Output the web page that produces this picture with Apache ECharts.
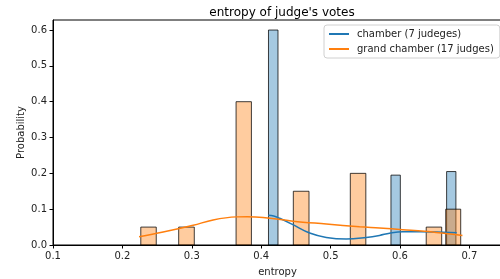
<!DOCTYPE html>
<html>
<head>
<meta charset="utf-8">
<script src="https://cdn.jsdelivr.net/npm/echarts@6/dist/echarts.min.js"></script>
<style>html,body{margin:0;padding:0;background:#fff;}#c{width:500px;height:279px;}</style>
</head>
<body>
<div id="c"></div>
<script>
// Histogram bins: [bin start, bin end, probability]
const chamberBins = [
  [0.4105, 0.4242, 0.6],
  [0.5870, 0.6005, 0.195],
  [0.6672, 0.6806, 0.205]
];
const grandChamberBins = [
  [0.2265, 0.2488, 0.05],
  [0.2811, 0.3036, 0.05],
  [0.3638, 0.3859, 0.4],
  [0.4463, 0.4689, 0.15],
  [0.5284, 0.5508, 0.2],
  [0.6378, 0.6601, 0.05],
  [0.6659, 0.6875, 0.1]
];
// KDE curves: [entropy, density (scaled)]
const chamberKde = [
  [0.4100, 0.0830], [0.4180, 0.0810], [0.4266, 0.0745], [0.4458, 0.0567],
  [0.4698, 0.0335], [0.4938, 0.0212], [0.5226, 0.0167], [0.5513, 0.0212],
  [0.5705, 0.0268], [0.5850, 0.0330], [0.6040, 0.0370], [0.6300, 0.0370],
  [0.6520, 0.0360], [0.6817, 0.0340]
];
const grandChamberKde = [
  [0.2240, 0.0230], [0.2587, 0.0360], [0.3020, 0.0550], [0.3307, 0.0700],
  [0.3643, 0.0785], [0.3800, 0.0790], [0.4026, 0.0770], [0.4458, 0.0665],
  [0.4938, 0.0586], [0.5417, 0.0510], [0.5705, 0.0474], [0.6040, 0.0427],
  [0.6520, 0.0350], [0.6900, 0.0268]
];
const xTicks = [0.1, 0.2, 0.3, 0.4, 0.5, 0.6, 0.7];
const yTicks = [0.0, 0.1, 0.2, 0.3, 0.4, 0.5, 0.6];
const seriesNames = ['chamber (7 judeges)', 'grand chamber (17 judges)'];
const titleText = "entropy of judge's votes";
const xName = 'entropy';
const yName = 'Probability';

const FONT = 'DejaVu Sans';
const chart = echarts.init(document.getElementById('c'), null, {renderer: 'canvas'});

function barRenderer(fill) {
  return function (params, api) {
    const p0 = api.coord([api.value(0), api.value(2)]);
    const p1 = api.coord([api.value(1), 0]);
    return {
      type: 'rect',
      shape: {x: p0[0], y: p0[1], width: p1[0] - p0[0], height: p1[1] - p0[1]},
      style: {fill: fill, stroke: 'rgba(0,0,0,0.75)', lineWidth: 1}
    };
  };
}

chart.setOption({
  animation: false,
  backgroundColor: '#fff',
  textStyle: {fontFamily: FONT},
  title: {
    text: titleText, left: 277, top: 2, textAlign: 'center',
    textStyle: {fontFamily: FONT, fontSize: 12, fontWeight: 'normal', color: '#000'}
  },
  legend: {
    data: seriesNames,
    orient: 'vertical', left: 324, top: 25,
    backgroundColor: '#fff', borderColor: '#d0d0d0', borderWidth: 1, borderRadius: 3,
    padding: [4, 6, 4, 5], itemGap: 5,
    icon: 'rect', itemWidth: 20, itemHeight: 2,
    textStyle: {fontFamily: FONT, fontSize: 10, color: '#222', padding: [0, 0, 0, 3]}
  },
  grid: {left: 53, top: 20, width: 449, height: 225, show: true, borderColor: '#000', borderWidth: 1,
    outerBoundsMode: 'none'},
  xAxis: {
    type: 'value', min: 0.1, max: 0.747,
    name: xName, nameLocation: 'middle', nameGap: 22, nameMoveOverlap: false,
    nameTextStyle: {fontFamily: FONT, fontSize: 10, color: '#222'},
    splitLine: {show: false},
    axisLine: {show: true, lineStyle: {color: '#000', width: 1}},
    axisTick: {show: true, length: 3.5, lineStyle: {color: '#000'}, customValues: xTicks},
    axisLabel: {fontFamily: FONT, fontSize: 10, color: '#222', margin: 6, customValues: xTicks,
      formatter: v => v.toFixed(1)}
  },
  yAxis: {
    type: 'value', min: 0, max: 0.628,
    name: yName, nameLocation: 'middle', nameGap: 27, nameRotate: 90, nameMoveOverlap: false,
    nameTextStyle: {fontFamily: FONT, fontSize: 10, color: '#222'},
    splitLine: {show: false},
    axisLine: {show: true, lineStyle: {color: '#000', width: 1}},
    axisTick: {show: true, length: 3.5, lineStyle: {color: '#000'}, customValues: yTicks},
    axisLabel: {fontFamily: FONT, fontSize: 10, color: '#222', margin: 6, customValues: yTicks,
      formatter: v => v.toFixed(1)}
  },
  series: [
    {
      type: 'custom', name: 'chamberHist', data: chamberBins,
      encode: {x: [0, 1], y: 2}, renderItem: barRenderer('rgba(31,119,180,0.4)'), z: 2
    },
    {
      type: 'custom', name: 'grandHist', data: grandChamberBins,
      encode: {x: [0, 1], y: 2}, renderItem: barRenderer('rgba(255,127,14,0.4)'), z: 3
    },
    {
      type: 'line', name: seriesNames[0], data: chamberKde, smooth: 0.4,
      showSymbol: false, symbol: 'none', color: '#1f77b4',
      lineStyle: {color: '#1f77b4', width: 1.5}, z: 4
    },
    {
      type: 'line', name: seriesNames[1], data: grandChamberKde, smooth: 0.4,
      showSymbol: false, symbol: 'none', color: '#ff7f0e',
      lineStyle: {color: '#ff7f0e', width: 1.5}, z: 5
    }
  ]
});
</script>
</body>
</html>
